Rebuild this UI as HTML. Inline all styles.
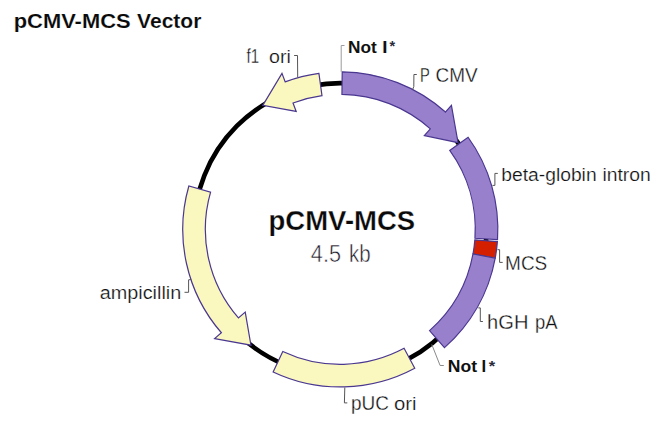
<!DOCTYPE html>
<html><head><meta charset="utf-8"><style>
html,body{margin:0;padding:0;background:#fff;}
svg{display:block;font-family:"Liberation Sans", sans-serif;}
</style></head><body>
<svg width="660" height="442" viewBox="0 0 660 442">
<rect width="660" height="442" fill="#fff"/>
<circle cx="340.3" cy="229.4" r="146.25" fill="none" stroke="#000" stroke-width="4.6"/>
<path d="M342.22,71.86 A157.55,157.55 0 0 1 445.41,112.04 L451.42,105.34 L458.06,142.67 L424.33,135.58 L430.34,128.88 A134.95,134.95 0 0 0 341.95,94.46 Z" fill="#9880cc" stroke="#4a3790" stroke-width="1.2" stroke-linejoin="miter"/><path d="M468.08,137.24 A157.55,157.55 0 0 1 497.51,239.70 L474.96,238.23 A134.95,134.95 0 0 0 449.75,150.46 Z" fill="#9880cc" stroke="#4a3790" stroke-width="1.2" stroke-linejoin="miter"/><path d="M497.38,241.62 A157.55,157.55 0 0 1 495.21,258.11 L472.99,253.99 A134.95,134.95 0 0 0 474.84,239.87 Z" fill="#d42000" stroke="#4a3790" stroke-width="1.2" stroke-linejoin="miter"/><path d="M495.21,258.11 A157.55,157.55 0 0 1 444.49,347.58 L429.54,330.63 A134.95,134.95 0 0 0 472.99,253.99 Z" fill="#9880cc" stroke="#4a3790" stroke-width="1.2" stroke-linejoin="miter"/><path d="M414.75,368.25 A157.55,157.55 0 0 1 273.14,371.92 L282.78,351.48 A134.95,134.95 0 0 0 404.07,348.33 Z" fill="#faf8be" stroke="#4a3790" stroke-width="1.2" stroke-linejoin="miter"/><path d="M188.85,185.97 A157.55,157.55 0 0 0 221.40,332.76 L214.60,338.67 L250.94,345.18 L245.24,312.03 L238.45,317.94 A134.95,134.95 0 0 1 210.58,192.20 Z" fill="#faf8be" stroke="#4a3790" stroke-width="1.2" stroke-linejoin="miter"/><path d="M318.92,73.31 A157.55,157.55 0 0 0 285.12,81.83 L281.97,73.40 L262.80,105.37 L296.19,111.43 L293.04,103.00 A134.95,134.95 0 0 1 321.99,95.70 Z" fill="#faf8be" stroke="#4a3790" stroke-width="1.2" stroke-linejoin="miter"/>
<polyline points="341.20,71.80 341.20,45.50 344.50,45.50" fill="none" stroke="#9a9a9a" stroke-width="1"/><polyline points="412.70,89.40 413.80,86.50 413.90,74.50 416.80,74.50" fill="none" stroke="#555555" stroke-width="1"/><polyline points="492.50,185.40 494.90,185.40 494.90,173.40 497.80,173.40" fill="none" stroke="#555555" stroke-width="1"/><polyline points="497.50,249.70 499.60,249.70 499.60,262.40 502.70,262.40" fill="none" stroke="#555555" stroke-width="1"/><polyline points="478.30,307.90 480.30,307.90 480.30,321.50 482.90,321.50" fill="none" stroke="#555555" stroke-width="1"/><polyline points="431.80,344.50 440.10,365.50 443.80,365.50" fill="none" stroke="#8a8a8a" stroke-width="1"/><polyline points="344.80,387.50 344.40,402.90 347.30,402.90" fill="none" stroke="#555555" stroke-width="1"/><polyline points="191.20,279.50 188.60,279.80 188.60,292.30 184.50,292.30" fill="none" stroke="#555555" stroke-width="1"/><polyline points="297.70,77.30 297.50,55.50 294.10,55.50" fill="none" stroke="#555555" stroke-width="1"/>
<text x="13.71" y="28.4" font-size="21" font-weight="bold" fill="#0a0a0a" stroke="#fff" stroke-width="0.15" textLength="116.93" lengthAdjust="spacingAndGlyphs">pCMV-MCS</text><text x="137.12" y="28.4" font-size="21" font-weight="bold" fill="#0a0a0a" stroke="#fff" stroke-width="0.15" textLength="64.26" lengthAdjust="spacingAndGlyphs">Vector</text><text x="347.98" y="52.6" font-size="17" font-weight="bold" fill="#111111" textLength="28.76" lengthAdjust="spacingAndGlyphs">Not</text><text x="382.39" y="52.6" font-size="17" font-weight="bold" fill="#111111" textLength="5.22" lengthAdjust="spacingAndGlyphs">I</text><text x="389.46" y="51.0" font-size="14" font-weight="bold" fill="#2a2a3a" textLength="5.64" lengthAdjust="spacingAndGlyphs">*</text><text x="420.10" y="82.0" font-size="20.3" font-weight="normal" fill="#101010" stroke="#fff" stroke-width="0.3" textLength="9.78" lengthAdjust="spacingAndGlyphs">P</text><text x="435.48" y="82.0" font-size="20.3" font-weight="normal" fill="#101010" stroke="#fff" stroke-width="0.3" textLength="42.14" lengthAdjust="spacingAndGlyphs">CMV</text><text x="501.22" y="180.8" font-size="18.0" font-weight="normal" fill="#101010" stroke="#fff" stroke-width="0.22" textLength="95.42" lengthAdjust="spacingAndGlyphs">beta-globin</text><text x="602.46" y="180.8" font-size="18.0" font-weight="normal" fill="#101010" stroke="#fff" stroke-width="0.22" textLength="48.32" lengthAdjust="spacingAndGlyphs">intron</text><text x="268.58" y="229.7" font-size="27" font-weight="bold" fill="#0a0a0a" stroke="#fff" stroke-width="0.25" textLength="146.58" lengthAdjust="spacingAndGlyphs">pCMV-MCS</text><text x="310.86" y="261.8" font-size="23.5" font-weight="normal" fill="#1e1a28" stroke="#fff" stroke-width="0.5" textLength="30.04" lengthAdjust="spacingAndGlyphs">4.5</text><text x="349.10" y="261.8" font-size="23.5" font-weight="normal" fill="#1e1a28" stroke="#fff" stroke-width="0.5" textLength="21.68" lengthAdjust="spacingAndGlyphs">kb</text><text x="246.62" y="62.9" font-size="19.5" font-weight="normal" fill="#101010" stroke="#fff" stroke-width="0.3" textLength="12.52" lengthAdjust="spacingAndGlyphs">f1</text><text x="269.10" y="62.9" font-size="18.0" font-weight="normal" fill="#101010" stroke="#fff" stroke-width="0.22" textLength="21.80" lengthAdjust="spacingAndGlyphs">ori</text><text x="99.72" y="299.2" font-size="18.0" font-weight="normal" fill="#101010" stroke="#fff" stroke-width="0.22" textLength="81.56" lengthAdjust="spacingAndGlyphs">ampicillin</text><text x="505.08" y="269.8" font-size="20.2" font-weight="normal" fill="#101010" stroke="#fff" stroke-width="0.3" textLength="42.20" lengthAdjust="spacingAndGlyphs">MCS</text><text x="487.10" y="328.6" font-size="19.8" font-weight="normal" fill="#101010" stroke="#fff" stroke-width="0.3" textLength="41.32" lengthAdjust="spacingAndGlyphs">hGH</text><text x="534.98" y="328.6" font-size="19.5" font-weight="normal" fill="#101010" stroke="#fff" stroke-width="0.3" textLength="22.52" lengthAdjust="spacingAndGlyphs">pA</text><text x="447.86" y="372.3" font-size="17" font-weight="bold" fill="#111111" textLength="29.26" lengthAdjust="spacingAndGlyphs">Not</text><text x="481.61" y="372.3" font-size="17" font-weight="bold" fill="#111111" textLength="4.66" lengthAdjust="spacingAndGlyphs">I</text><text x="488.68" y="370.8" font-size="14" font-weight="bold" fill="#2a2a3a" textLength="6.42" lengthAdjust="spacingAndGlyphs">*</text><text x="350.98" y="409.6" font-size="19.5" font-weight="normal" fill="#101010" stroke="#fff" stroke-width="0.3" textLength="37.92" lengthAdjust="spacingAndGlyphs">pUC</text><text x="393.98" y="409.6" font-size="18.0" font-weight="normal" fill="#101010" stroke="#fff" stroke-width="0.22" textLength="22.56" lengthAdjust="spacingAndGlyphs">ori</text>
</svg>
</body></html>
